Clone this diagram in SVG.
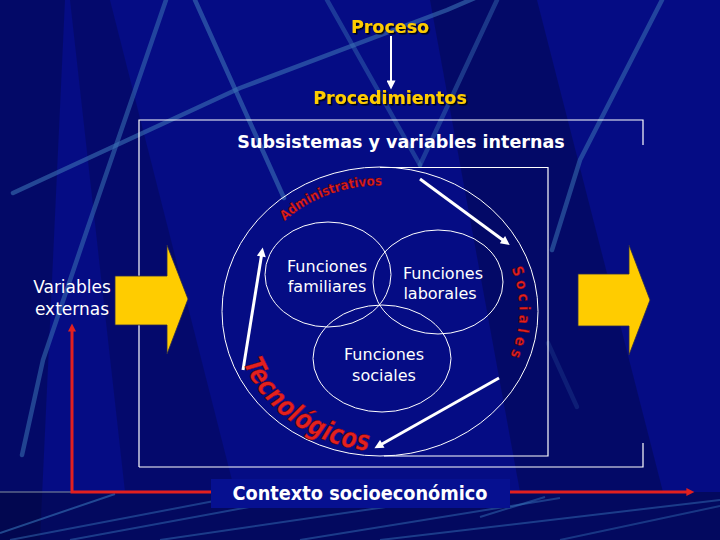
<svg xmlns="http://www.w3.org/2000/svg" width="720" height="540" viewBox="0 0 720 540">
<defs>
<style>
.bgl{fill:none;stroke:#3a72b4;stroke-width:4.5;stroke-linecap:round;stroke-linejoin:round}
.fl{fill:none;stroke:#3a7bbf;stroke-width:2}
.frame{fill:none;stroke:#fff;stroke-width:1.2}
.ring{fill:none;stroke:#fff;stroke-width:1}
.lbl{font-family:"DejaVu Sans",Verdana,sans-serif;font-size:16px;fill:#fff;text-anchor:middle}
.ttl{font-family:"DejaVu Sans",Verdana,sans-serif;font-weight:bold;font-size:17.5px;text-anchor:middle}
.gold{fill:#ffcc00;filter:url(#sh)}
.yarrow{fill:#ffcc00;stroke:#2a2a50;stroke-width:0.8}
.wa{stroke:#fff;stroke-width:3;fill:none}
.red{fill:#e3201f;stroke:#5a0000;stroke-width:0.4;font-family:"DejaVu Sans Condensed","DejaVu Sans",sans-serif;font-weight:bold}
</style>
<filter id="sh" x="-10%" y="-30%" width="130%" height="170%">
<feDropShadow dx="1.5" dy="1.5" stdDeviation="0.4" flood-color="#000" flood-opacity="0.9"/>
</filter>
<marker id="wh" viewBox="0 0 10 10" refX="2" refY="5" markerWidth="11" markerHeight="9" markerUnits="userSpaceOnUse" orient="auto">
<path d="M0,0 L10,5 L0,10 z" fill="#fff"/>
</marker>
<marker id="rd" viewBox="0 0 10 10" refX="2" refY="5" markerWidth="10" markerHeight="8" markerUnits="userSpaceOnUse" orient="auto-start-reverse">
<path d="M0,0 L10,5 L0,10 z" fill="#e3201f"/>
</marker>
<path id="pAdm" d="M284.5,220.9 A137.5,126 0 0,1 427,193.1"/>
<path id="pSoc" d="M511.4,268.2 A139,127 0 0,1 506,365.2"/>
<path id="pTec" d="M243.1,363 A153,140 0 0,0 400,451"/>
</defs>

<g id="background">
<rect x="0" y="0" width="720" height="540" fill="#050c84"/>
<polygon points="0,0 65,0 40,540 0,540" fill="#000" opacity="0.22"/>
<polygon points="70,0 110,0 235,492 125,492" fill="#000" opacity="0.18"/>
<polygon points="430,0 537,0 663,492 520,492" fill="#000" opacity="0.22"/>
<rect x="0" y="492" width="720" height="48" fill="#02063a" opacity="0.5"/>
<polyline class="bgl" points="166,0 87,230 43,360 22,455" opacity="0.55"/>
<polyline class="bgl" points="13,193 240,88 447,10 475,-2" opacity="0.6"/>
<line class="bgl" x1="195" y1="0" x2="284" y2="198" opacity="0.6"/>
<line class="bgl" x1="327" y1="0" x2="420" y2="165" opacity="0.45"/>
<line class="bgl" x1="497" y1="0" x2="420" y2="165" opacity="0.45"/>
<polyline class="bgl" points="662,0 580,160 552,250" opacity="0.55"/>
<line class="bgl" x1="548" y1="343" x2="577" y2="407" opacity="0.2"/>
<line x1="0" y1="492" x2="72" y2="492" stroke="#7a869a" stroke-width="2" opacity="0.55"/>
<line class="fl" x1="0" y1="533" x2="115" y2="494" opacity="0.55"/>
<line class="fl" x1="10" y1="540" x2="230" y2="498" opacity="0.45"/>
<line class="fl" x1="70" y1="540" x2="260" y2="505" opacity="0.45"/>
<line class="fl" x1="160" y1="540" x2="420" y2="502" opacity="0.45"/>
<line class="fl" x1="300" y1="540" x2="560" y2="498" opacity="0.45"/>
<line class="fl" x1="380" y1="540" x2="720" y2="500" opacity="0.45"/>
<line class="fl" x1="480" y1="517" x2="545" y2="497" opacity="0.45"/>
<line class="fl" x1="560" y1="540" x2="720" y2="506" opacity="0.4"/>
</g>

<g id="frames">
<path class="frame" d="M139,467 V120 H643 V145 M643,443 V467 H139"/>
<path class="frame" d="M380,167.5 H548 V456 H384"/>
<ellipse class="ring" cx="380" cy="311.5" rx="158" ry="144.5"/>
</g>

<g id="connectors">
<line x1="391" y1="36" x2="391" y2="82.2" stroke="#fff" stroke-width="2" marker-end="url(#wh)"/>
<line class="wa" x1="420" y1="179" x2="503.9" y2="240.8" marker-end="url(#wh)"/>
<line class="wa" x1="499" y1="378" x2="380.7" y2="444.7" marker-end="url(#wh)"/>
<line class="wa" x1="243" y1="370" x2="261.6" y2="254.7" marker-end="url(#wh)"/>
<path d="M72,330 L72,492 L688,492" fill="none" stroke="#e3201f" stroke-width="3" marker-start="url(#rd)" marker-end="url(#rd)"/>
</g>

<g id="proceso">
<text class="ttl gold" x="390" y="33">Proceso</text>
</g>
<g id="procedimientos">
<text class="ttl gold" x="390" y="104">Procedimientos</text>
</g>
<g id="subsistemas">
<text class="ttl" x="401" y="148" fill="#fff">Subsistemas y variables internas</text>
</g>

<g id="variables-externas">
<text class="lbl" x="72" y="293" style="font-size:17px">Variables</text>
<text class="lbl" x="72" y="315" style="font-size:17px">externas</text>
</g>

<g id="arrow-left">
<polygon class="yarrow" points="115,276 167,276 167,245 188,299 167,354 167,325 115,325"/>
</g>
<g id="arrow-right">
<polygon class="yarrow" points="578,274 629,274 629,245 650,300 629,355 629,326 578,326"/>
</g>

<g id="funciones-familiares">
<ellipse class="ring" cx="328" cy="274.5" rx="63" ry="52.5"/>
<text class="lbl" x="327" y="272">Funciones</text>
<text class="lbl" x="327" y="292">familiares</text>
</g>
<g id="funciones-laborales">
<ellipse class="ring" cx="438" cy="282" rx="65" ry="52"/>
<text class="lbl" x="443" y="279">Funciones</text>
<text class="lbl" x="440" y="299">laborales</text>
</g>
<g id="funciones-sociales">
<ellipse class="ring" cx="382" cy="358.5" rx="69" ry="53.5"/>
<text class="lbl" x="384" y="360">Funciones</text>
<text class="lbl" x="384" y="380.5">sociales</text>
</g>

<g id="arc-labels">
<text class="red" font-size="13.5"><textPath href="#pAdm" textLength="106" lengthAdjust="spacingAndGlyphs">Administrativos</textPath></text>
<text class="red" font-size="15"><textPath href="#pSoc" textLength="90" lengthAdjust="spacing">Sociales</textPath></text>
<text class="red" font-size="28" font-style="italic"><textPath href="#pTec" textLength="160" lengthAdjust="spacingAndGlyphs">Tecnológicos</textPath></text>
</g>

<g id="contexto">
<rect x="211" y="479" width="299" height="29" fill="#061090"/>
<text x="360" y="500" text-anchor="middle" fill="#fff" font-family="'DejaVu Sans Condensed','DejaVu Sans',sans-serif" font-weight="bold" font-size="19" textLength="255" lengthAdjust="spacingAndGlyphs">Contexto socioeconómico</text>
</g>
</svg>
